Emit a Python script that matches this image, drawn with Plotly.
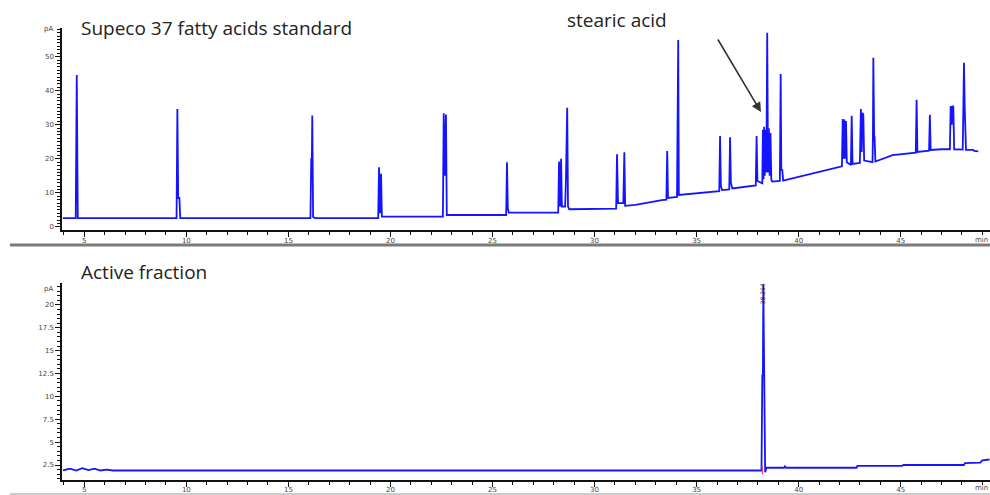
import plotly.graph_objects as go

# ---------------- data ----------------
# Top chromatogram: Supelco 37 FAME standard (time in min, signal in pA)
top_t = [3.95, 4.58, 4.63, 4.68, 9.52, 9.56, 9.60, 9.66, 9.70,
         16.08, 16.12, 16.15, 16.17, 16.21, 16.30,
         19.40, 19.44, 19.49, 19.54, 19.58,
         22.57, 22.61, 22.66, 22.72, 22.76,
         25.67, 25.71, 25.75, 25.80,
         28.22, 28.26, 28.31, 28.36, 28.40, 28.56, 28.60, 28.66, 28.70, 28.76,
         31.06, 31.10, 31.15, 31.41, 31.46, 31.50, 32.00, 33.30,
         33.52, 33.56, 33.60, 34.04, 34.07, 34.10, 34.13, 36.00,
         36.11, 36.15, 36.19, 36.25, 36.60, 36.64, 36.68, 36.75,
         37.90, 37.94, 37.98, 38.22,
         38.25, 38.28, 38.31, 38.34, 38.38, 38.42, 38.46, 38.50, 38.54, 38.58, 38.62, 38.66, 38.70,
         39.08, 39.12, 39.15, 39.20, 39.24, 40.06, 42.02,
         42.12, 42.16, 42.20, 42.24, 42.28, 42.32, 42.36,
         42.56, 42.60, 42.64, 43.00, 43.05, 43.09, 43.13, 43.17, 43.21,
         43.62, 43.64, 43.66, 43.70, 43.72, 43.76, 44.60,
         45.74, 45.78, 45.82, 46.39, 46.43, 46.47, 47.00,
         47.41, 47.45, 47.50, 47.54, 47.58, 47.62,
         48.04, 48.07, 48.10, 48.14, 48.20, 48.55, 48.60, 48.80]
top_pA = [2.6, 2.6, 44.6, 2.6, 2.6, 34.6, 8.5, 8.5, 2.6,
          2.6, 20.0, 20.0, 32.7, 2.9, 2.6,
          2.6, 17.5, 4.0, 15.6, 3.0,
          3.0, 33.4, 15.0, 33.0, 3.5,
          3.5, 19.0, 5.5, 4.2,
          4.2, 19.2, 6.0, 20.0, 6.0, 6.0, 14.3, 35.0, 6.0, 5.2,
          5.4, 21.3, 7.0, 7.0, 21.9, 6.2, 6.5, 7.9,
          8.0, 22.3, 8.5, 8.8, 37.3, 54.9, 9.4, 10.4,
          10.5, 26.7, 12.0, 10.8, 11.0, 26.3, 13.0, 11.3,
          12.2, 26.7, 13.5, 12.8,
          28.5, 14.0, 29.4, 15.0, 28.5, 16.0, 57.0, 16.0, 29.0, 15.0, 27.6, 14.0, 13.3,
          13.5, 44.9, 16.7, 16.7, 13.6, 14.8, 17.7,
          17.8, 31.7, 20.0, 31.5, 20.0, 31.1, 19.0,
          18.2, 32.6, 18.5, 18.8, 34.6, 22.0, 33.5, 32.9, 19.5,
          19.0, 26.5, 49.7, 26.5, 26.5, 19.2, 21.1,
          21.8, 37.3, 22.0, 22.4, 32.9, 22.6, 22.8,
          22.8, 35.5, 30.0, 35.5, 35.3, 22.8,
          22.7, 34.6, 48.2, 34.6, 22.6, 22.6, 22.3, 22.2]

# Bottom chromatogram: active fraction
bot_t = [3.95, 4.30, 4.60, 4.90, 5.20, 5.50, 5.80, 6.10, 6.40, 20.0, 38.18,
         38.22, 38.25, 38.27, 38.30, 38.33, 38.36, 38.42, 39.28, 39.33, 39.38,
         42.84, 42.88, 45.05, 45.15, 48.10, 48.15, 48.90, 49.00, 49.35]
bot_pA = [1.9, 2.1, 1.9, 2.15, 1.95, 2.1, 1.9, 2.0, 1.9, 1.9, 1.9,
          12.3, 12.3, 22.2, 12.0, 2.9, 1.7, 2.2, 2.2, 2.35, 2.2,
          2.2, 2.4, 2.4, 2.5, 2.5, 2.7, 2.75, 3.0, 3.1]

top_ticks = [0, 10, 20, 30, 40, 50]
bot_ticks = [2.5, 5, 7.5, 10, 12.5, 15, 17.5, 20]
bot_tick_text = ["2.5", "5", "7.5", "10", "12.5", "15", "17.5", "20"]
x_ticks = [5, 10, 15, 20, 25, 30, 35, 40, 45]

peak_label_t = 38.27
peak_label = "38.264"

# ---------------- figure ----------------
W, H = 990, 495
BLUE = "#1414ff"
FONT = "Open Sans"


def px(x):
    return x / W


def py(y):
    return 1 - y / H


fig = go.Figure()
fig.add_trace(go.Scatter(x=top_t, y=top_pA, mode="lines",
                         line=dict(color=BLUE, width=1.8), xaxis="x", yaxis="y",
                         hoverinfo="skip", showlegend=False))
fig.add_trace(go.Scatter(x=bot_t, y=bot_pA, mode="lines",
                         line=dict(color=BLUE, width=1.8), xaxis="x2", yaxis="y2",
                         hoverinfo="skip", showlegend=False))
# small red baseline marker at peak start
fig.add_trace(go.Scatter(x=[peak_label_t - 0.05, peak_label_t - 0.05], y=[1.5, 2.4],
                         mode="lines", line=dict(color="#ff3355", width=1.2),
                         xaxis="x2", yaxis="y2", hoverinfo="skip", showlegend=False))

axis_common = dict(
    showgrid=False, zeroline=False, showline=True, linecolor="#111", linewidth=1.5,
    ticks="outside", tickcolor="#111", tickwidth=1.2, automargin=False,
    tickfont=dict(size=7, color="#444", family="DejaVu Sans"),
)

x0, x1 = 3.907, 49.376
xdom = [px(62), 1.0]
xminor = dict(dtick=1, tick0=0, ticklen=3, ticks="outside", tickcolor="#111")

fig.update_layout(
    width=W, height=H,
    margin=dict(l=0, r=0, t=0, b=0, autoexpand=False),
    paper_bgcolor="white", plot_bgcolor="white",
    xaxis=dict(domain=xdom, range=[x0, x1], anchor="y", tickvals=x_ticks, ticklen=5,
               ticklabelstandoff=-2, minor=xminor, **axis_common),
    yaxis=dict(domain=[py(230), py(28)], range=[-0.9, 58.4], anchor="x", tickvals=top_ticks,
               ticklen=5,
               minor=dict(dtick=1, tick0=0, ticklen=3, ticks="outside", tickcolor="#111"),
               **axis_common),
    xaxis2=dict(domain=xdom, range=[x0, x1], anchor="y2", tickvals=x_ticks, ticklen=5,
                ticklabelstandoff=-3, minor=xminor, **axis_common),
    yaxis2=dict(domain=[py(480), py(283)], range=[0.86, 22.4], anchor="x2", tickvals=bot_ticks,
                ticktext=bot_tick_text, ticklen=5,
                minor=dict(dtick=0.5, tick0=0, ticklen=3, ticks="outside", tickcolor="#111"),
                **axis_common),
)

ann = [
    dict(x=px(79), y=py(28), text="Supeco 37 fatty acids standard", xanchor="left", yanchor="middle",
         font=dict(size=19, color="#222", family=FONT)),
    dict(x=px(565), y=py(20), text="stearic acid", xanchor="left", yanchor="middle",
         font=dict(size=19, color="#222", family=FONT)),
    dict(x=px(79), y=py(272), text="Active fraction", xanchor="left", yanchor="middle",
         font=dict(size=19, color="#222", family=FONT)),
    dict(x=px(48), y=py(29), text="pA", xanchor="center", yanchor="middle",
         font=dict(size=7, color="#444", family="DejaVu Sans")),
    dict(x=px(48), y=py(289), text="pA", xanchor="center", yanchor="middle",
         font=dict(size=7, color="#444", family="DejaVu Sans")),
    dict(x=px(990), y=py(240), text="min", xanchor="right", yanchor="middle",
         font=dict(size=7, color="#444", family="DejaVu Sans")),
    dict(x=px(990), y=py(488), text="min", xanchor="right", yanchor="middle",
         font=dict(size=7, color="#444", family="DejaVu Sans")),
    dict(x=peak_label_t, y=21.2, xref="x2", yref="y2", text=peak_label, textangle=-90,
         showarrow=False, font=dict(size=6, color="#222", family="DejaVu Sans")),
    # arrow pointing to stearic acid
    dict(x=px(761), y=py(112), ax=-44, ay=-74, axref="pixel", ayref="pixel",
         text="", showarrow=True, arrowhead=2,
         arrowsize=1.2, arrowwidth=1.6, arrowcolor="#333"),
]
for a in ann:
    a.setdefault("xref", "paper")
    a.setdefault("yref", "paper")
    a.setdefault("showarrow", False)
fig.update_layout(annotations=ann)

fig.update_layout(shapes=[
    dict(type="line", xref="paper", yref="paper", x0=px(10), x1=1.0, y0=py(245), y1=py(245),
         line=dict(color="#7a7a7a", width=3)),
    dict(type="line", xref="paper", yref="paper", x0=px(10), x1=1.0, y0=py(494), y1=py(494),
         line=dict(color="#bbbbbb", width=1.5)),
])

fig.write_html("out.html", config={"displayModeBar": False},
               post_script="document.body.style.margin='0';document.body.style.padding='0';"
                           "document.body.style.overflow='hidden';")
